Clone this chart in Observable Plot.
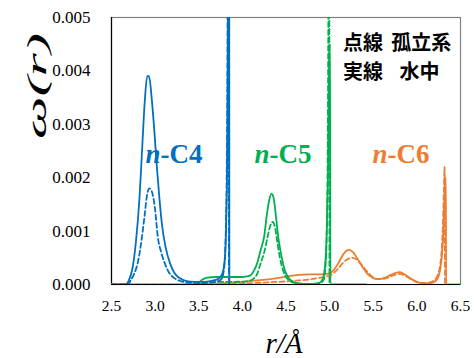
<!DOCTYPE html>
<html><head><meta charset="utf-8">
<script src="https://cdn.jsdelivr.net/npm/d3@7"></script>
<script src="https://cdn.jsdelivr.net/npm/@observablehq/plot@0.6"></script>
<style>body{margin:0;background:#fff}</style>
</head><body><div id="chart"></div>
<script>
// ---- data ----
const xTicks = [2.5, 3.0, 3.5, 4.0, 4.5, 5.0, 5.5, 6.0, 6.5];
const yTicks = [0, 0.001, 0.002, 0.003, 0.004, 0.005];

// n-C4, water (solid)
const rC4w = [2.5, 2.66, 2.7, 2.74, 2.78, 2.82, 2.85, 2.88, 2.91, 2.93, 2.96, 2.99, 3.02, 3.05, 3.08, 3.12, 3.17, 3.22, 3.28, 3.35, 3.45, 3.55, 3.65, 3.72, 3.77, 3.8, 3.815, 3.83, 3.84, 3.848, 3.851];
const wC4w = [0, 0, 0.00008, 0.0003, 0.0008, 0.0016, 0.0025, 0.0034, 0.0039, 0.0039, 0.0035, 0.0029, 0.0022, 0.0016, 0.0011, 0.0007, 0.0004, 0.00022, 0.00012, 0.00007, 0.00005, 0.00005, 0.00007, 0.0001, 0.0002, 0.0005, 0.0012, 0.003, 0.007, 0.009, 0];
// n-C4, isolated (dashed)
const rC4i = [2.5, 2.69, 2.72, 2.76, 2.8, 2.85, 2.88, 2.91, 2.935, 2.96, 3.0, 3.03, 3.07, 3.11, 3.16, 3.22, 3.3, 3.4, 3.5, 3.6, 3.7, 3.76, 3.79, 3.81, 3.825, 3.835, 3.843, 3.846];
const wC4i = [0, 0, 0.00008, 0.0002, 0.0004, 0.0009, 0.0013, 0.0017, 0.0018, 0.00175, 0.0014, 0.0009, 0.0006, 0.0004, 0.00022, 0.00012, 0.00006, 0.00003, 0.00002, 0.00003, 0.00005, 0.0001, 0.0003, 0.001, 0.003, 0.007, 0.009, 0];

// n-C5, water (solid)
const rC5w = [3.45, 3.5, 3.55, 3.6, 3.7, 3.8, 3.9, 4.0, 4.08, 4.13, 4.17, 4.21, 4.25, 4.28, 4.31, 4.335, 4.36, 4.39, 4.41, 4.44, 4.48, 4.53, 4.6, 4.7, 4.8, 4.88, 4.92, 4.95, 4.97, 4.985, 4.995, 5.005, 5.009, 5.42];
const wC5w = [0, 0.00004, 0.0001, 0.00013, 0.00014, 0.00014, 0.00014, 0.00014, 0.00016, 0.00025, 0.0004, 0.00065, 0.0009, 0.0013, 0.0016, 0.0017, 0.0016, 0.0012, 0.0009, 0.0006, 0.0003, 0.00012, 0.00004, 0.00001, 0.00001, 0.00003, 0.0001, 0.0004, 0.0012, 0.0025, 0.0042, 0.0045, 0, 0];
// n-C5, isolated (dashed)
const rC5i = [3.45, 3.55, 3.7, 3.9, 4.05, 4.12, 4.17, 4.21, 4.25, 4.29, 4.32, 4.345, 4.37, 4.4, 4.43, 4.47, 4.52, 4.6, 4.75, 4.88, 4.93, 4.955, 4.97, 4.98, 4.988, 4.995, 4.998];
const wC5i = [0, 0.00003, 0.00005, 0.00005, 0.00006, 0.0001, 0.0002, 0.0004, 0.0006, 0.0009, 0.0011, 0.00117, 0.0011, 0.0008, 0.0005, 0.00025, 0.0001, 0.00003, 0.00001, 0.00002, 0.00008, 0.0004, 0.0012, 0.003, 0.006, 0.009, 0];

// n-C6, water (solid)
const rC6w = [2.5, 3.3, 3.6, 3.8, 4.0, 4.2, 4.4, 4.6, 4.75, 4.9, 5.0, 5.05, 5.1, 5.15, 5.2, 5.23, 5.27, 5.32, 5.38, 5.44, 5.5, 5.55, 5.62, 5.7, 5.76, 5.8, 5.85, 5.92, 6.0, 6.08, 6.15, 6.2, 6.24, 6.27, 6.29, 6.305, 6.315, 6.325, 6.332, 6.335, 6.5];
const wC6w = [0, 0, 0.00001, 0.00003, 0.00005, 0.00008, 0.00012, 0.00017, 0.00019, 0.00019, 0.00021, 0.00028, 0.0004, 0.00055, 0.00064, 0.00065, 0.0006, 0.00048, 0.00032, 0.00019, 0.00012, 0.0001, 0.00012, 0.00018, 0.00022, 0.00023, 0.0002, 0.00012, 0.00005, 0.00002, 0.00002, 0.00005, 0.00012, 0.0003, 0.0006, 0.001, 0.0015, 0.0019, 0.002, 0, 0];
// n-C6, isolated (dashed)
const rC6i = [2.5, 3.5, 3.8, 4.0, 4.3, 4.6, 4.8, 4.9, 5.0, 5.05, 5.1, 5.15, 5.2, 5.26, 5.31, 5.37, 5.43, 5.5, 5.57, 5.65, 5.73, 5.79, 5.85, 5.93, 6.0, 6.08, 6.15, 6.2, 6.24, 6.27, 6.29, 6.3, 6.31, 6.318, 6.322];
const wC6i = [0, 0, 0.00001, 0.00002, 0.00004, 0.00007, 0.0001, 0.00013, 0.00017, 0.00022, 0.0003, 0.0004, 0.00047, 0.0005, 0.00047, 0.00036, 0.00024, 0.00013, 0.0001, 0.00012, 0.00017, 0.0002, 0.00018, 0.0001, 0.00005, 0.00003, 0.00004, 0.00008, 0.00018, 0.0004, 0.0008, 0.0012, 0.0018, 0.0022, 0];

const seriesNames = ["-C4", "-C5", "-C6"];
const seriesPrefix = "n";
const seriesLabelR = [3.062, 4.311, 5.663];
const seriesLabelW = 0.00227;
const legendWords = ["点線", "孤立系", "実線", "水中"];
const legendR = [5.152, 5.707, 5.152, 5.80];
const legendW = [0.00451, 0.00451, 0.00397, 0.00397];

const colors = ["#0070C0", "#00B050", "#ED7D31"];

const toRows = (rs, ws) => rs.map((r, i) => ({r, w: ws[i]}));
const solid = [toRows(rC4w, wC4w), toRows(rC5w, wC5w), toRows(rC6w, wC6w)];
const dashed = [toRows(rC4i, wC4i), toRows(rC5i, wC5i), toRows(rC6i, wC6i)];

const lineMarks = [];
[2, 1, 0].forEach(k => {
  lineMarks.push(Plot.line(dashed[k], {x: "r", y: "w", stroke: colors[k], strokeWidth: 1.8, strokeDasharray: "5,3", curve: "monotone-x", clip: true}));
  lineMarks.push(Plot.line(solid[k], {x: "r", y: "w", stroke: colors[k], strokeWidth: 1.8, curve: "monotone-x", clip: true}));
});

const labelMarks = [];
seriesNames.forEach((name, k) => {
  labelMarks.push(Plot.text([seriesPrefix], {x: () => seriesLabelR[k], y: () => seriesLabelW, text: d => d, textAnchor: "end", lineAnchor: "bottom", fill: colors[k], fontSize: 27, fontWeight: "bold", fontStyle: "italic", fontFamily: "Liberation Serif"}));
  labelMarks.push(Plot.text([name], {x: () => seriesLabelR[k], y: () => seriesLabelW, text: d => d, textAnchor: "start", lineAnchor: "bottom", fill: colors[k], fontSize: 27, fontWeight: "bold", fontFamily: "Liberation Serif"}));
});

const legendRows = legendWords.map((t, i) => ({t, r: legendR[i], w: legendW[i]}));

const chart = Plot.plot({
  width: 474, height: 358,
  marginLeft: 111, marginRight: 14, marginTop: 17, marginBottom: 74,
  x: {domain: [2.5, 6.5], axis: null},
  y: {domain: [0, 0.005], axis: null},
  style: {fontFamily: "Liberation Serif", background: "white", color: "black"},
  marks: [
    Plot.frame({stroke: "#808080", strokeWidth: 1.2}),
    Plot.ruleX([2.5], {stroke: "black", strokeWidth: 1.2}),
    Plot.ruleY([0], {stroke: "black", strokeWidth: 1.2}),
    // tick labels
    Plot.text(xTicks, {x: d => d, frameAnchor: "bottom", dy: 15, lineAnchor: "top", text: d3.format(".1f"), fontSize: 15.5, fontFamily: "Liberation Serif", fill: "black"}),
    Plot.text(yTicks, {y: d => d, frameAnchor: "left", dx: -21, textAnchor: "end", lineAnchor: "middle", text: d3.format(".3f"), fontSize: 17, fontFamily: "Liberation Serif", fill: "black"}),
    ...lineMarks,
    ...labelMarks,
    Plot.text(legendRows, {x: "r", y: "w", text: "t", textAnchor: "start", lineAnchor: "middle", fontSize: 20, fontWeight: "bold", fontFamily: "Noto Sans CJK JP", fill: "black"}),
    Plot.text(["r/Å"], {frameAnchor: "bottom", dx: -2, dy: 59, lineAnchor: "middle", fontSize: 29, fontStyle: "italic", fontFamily: "Liberation Serif", fill: "black"}),
    Plot.text(["ω(r)"], {frameAnchor: "left", dx: -74, dy: -12, rotate: -90, lineAnchor: "middle", fontSize: 28, fontStyle: "italic", fontFamily: "Liberation Serif", fill: "black", className: "ylab"})
  ]
});
document.getElementById("chart").appendChild(chart);
d3.select(chart).selectAll(".ylab text").each(function() {
  const len = this.getComputedTextLength();
  const sx = len > 0 ? 106 / len : 1;
  const t = this.getAttribute("transform") || "";
  this.setAttribute("transform", t + ` scale(${sx},1)`);
});
</script>
</body></html>
